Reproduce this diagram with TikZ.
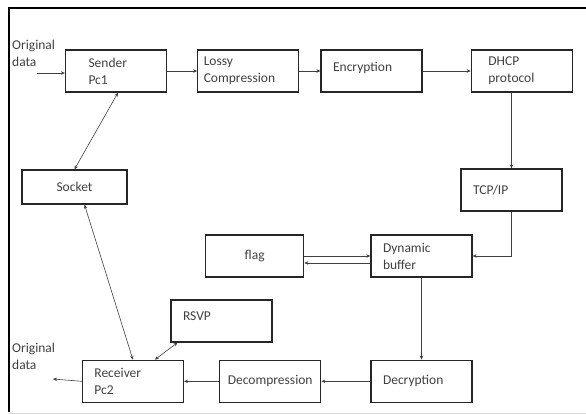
\documentclass[tikz,border=0pt]{standalone}
\usepackage{fontspec}
\setmainfont{Carlito}
\usepackage{tikz}
\usetikzlibrary{arrows.meta, positioning}

\begin{document}
\begin{tikzpicture}[
    x=1pt, y=1pt,
    blk/.style={draw=black!85, line width=1.3pt, minimum width=101pt, minimum height=42pt,
        text width=77pt, inner xsep=12pt, align=left, text=black!75,
        font=\fontsize{13.5}{17}\selectfont},
    ctr/.style={blk, text width=, inner xsep=0pt, align=center},
    lbl/.style={anchor=west, align=left, inner sep=0pt, text=black!75,
        font=\fontsize{13.5}{17}\selectfont},
    arr/.style={-{Stealth[length=4pt, width=3.5pt]}, line width=0.6pt, draw=black!75},
    darr/.style={arr, {Stealth[length=4pt, width=3.5pt]}-{Stealth[length=4pt, width=3.5pt]}}
]
\useasboundingbox (0,0) rectangle (586,-414);
% frame
\draw[line width=2.4pt] (9,-412) -- (9,-8) -- (586,-8);
\draw[black!15, line width=0.6pt] (9,-413) -- (586,-413);

% sending side
\node[blk, inner xsep=23pt, text width=55pt] (sender) at (116,-71) {Sender\\Pc1};
\node[blk, inner xsep=6pt, text width=89pt, right=30pt of sender] (lossy) {Lossy\\Compression};
\node[blk, text depth=8pt, right=21pt of lossy] (enc) {Encryption};
\node[blk, inner xsep=17pt, text width=67pt, right=48pt of enc] (dhcp) {DHCP\\protocol};

\node[blk] (tcp) at (511.5,-190) {TCP/IP};
\node[blk] (buf) at (421.5,-256) {Dynamic\\buffer};
\node[ctr, minimum width=98pt, left=66pt of buf] (flag) {flag};

% receiving side
\node[blk, below=82pt of buf] (decr) {Decryption};
\node[ctr, left=49pt of decr] (decomp) {Decompression};
\node[blk, left=35pt of decomp] (recv) {Receiver\\Pc2};
\node[blk, text depth=10pt] (rsvp) at (221.5,-321) {RSVP};
\node[ctr, minimum width=105pt, minimum height=34pt] (socket) at (74.5,-187) {Socket};

% labels
\coordinate (in) at (37,-73);
\coordinate (out) at (53,-379);
\node[lbl] (inlbl) at (12,-53) {Original\\data};
\node[lbl] (outlbl) at (12,-356) {Original\\data};

\draw[arr] (in) -- (in -| sender.west);
\draw[arr] (sender) -- (lossy);
\draw[arr] (lossy) -- (enc);
\draw[arr] (enc) -- (dhcp);
\draw[arr] (tcp.north |- dhcp.south) -- (tcp.north);
\draw[arr] (tcp.south) |- (buf.east);
\draw[arr] (flag.east) -- (buf.west);
\draw[arr] ([yshift=-7pt]buf.west) -- ([yshift=-7pt]flag.east);
\draw[arr] (buf.south) -- (decr.north);
\draw[arr] (decr) -- (decomp);
\draw[arr] (decomp) -- (recv);
\draw[arr] (recv.west) -- (out);
\draw[darr] ([xshift=22pt]recv.north) -- ([xshift=-44pt]rsvp.south);
\draw[darr] (recv.north) -- ([xshift=10pt]socket.south);
\draw[darr] (socket.north) -- ([xshift=2pt]sender.south);
\end{tikzpicture}
\end{document}
